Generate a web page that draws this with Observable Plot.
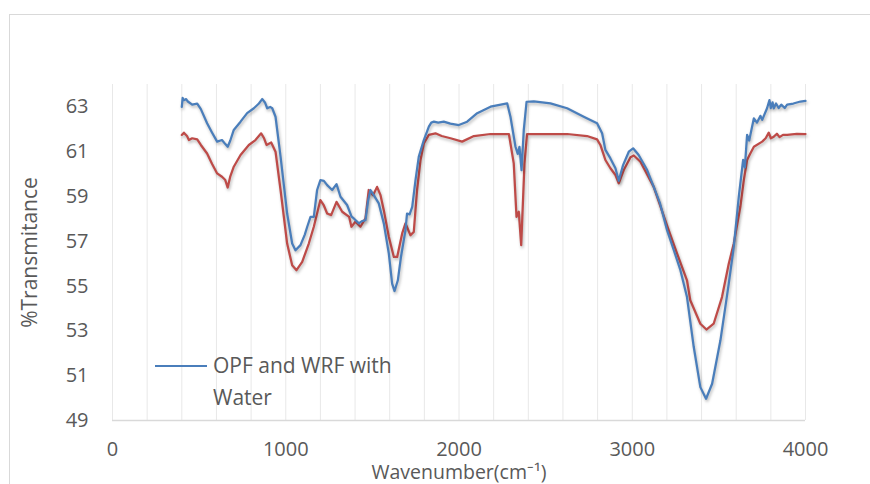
<!DOCTYPE html>
<html>
<head>
<meta charset="utf-8">
<script src="https://cdn.jsdelivr.net/npm/d3@7"></script>
<script src="https://cdn.jsdelivr.net/npm/@observablehq/plot@0.6"></script>
<style>
  html, body { margin: 0; padding: 0; background: #fff; overflow: hidden; }
  #wrap { position: relative; width: 870px; height: 484px; }
  #frame { position: absolute; left: 9px; top: 14px; width: 900px; height: 520px; border: 1.5px solid #d9d9d9; box-sizing: border-box; }
  #chart { position: absolute; left: 0; top: 0; }
  #legend { position: absolute; left: 155px; top: 349px; font-family: "Open Sans", sans-serif; font-size: 21px; color: #595959; line-height: 32px; }
  #legend .sw { position: absolute; left: 0; top: 16px; width: 52px; height: 0; border-top: 2.25px solid #4a7ebb; }
  #legend .txt { position: absolute; left: 58px; top: 0; white-space: nowrap; }
</style>
</head>
<body>
<div id="wrap">
  <div id="frame"></div>
  <div id="chart"></div>
  <div id="legend"><div class="sw"></div><div class="txt">OPF and WRF with<br>Water</div></div>
</div>
<script>
// Series 1: OPF and WRF with Water (blue)
const waterWavenumber = [400,405,412,425,435,460,489,510,546,575,604,632,650,665,680,700,739,777,816,845,864,880,893,910,922,941,970,1008,1037,1056,1085,1110,1124,1143,1162,1181,1200,1220,1239,1268,1293,1316,1354,1380,1393,1422,1440,1460,1475,1489,1508,1537,1566,1595,1614,1628,1647,1665,1691,1700,1715,1730,1749,1768,1797,1826,1840,1855,1880,1912,1950,1999,2047,2105,2182,2278,2297,2326,2339,2349,2361,2374,2390,2432,2528,2624,2720,2797,2826,2845,2874,2903,2922,2947,2980,3005,3037,3086,3124,3160,3201,3240,3278,3316,3355,3393,3426,3461,3509,3557,3586,3615,3640,3650,3663,3675,3702,3720,3740,3750,3778,3792,3800,3810,3817,3830,3845,3860,3880,3894,3930,3971,4000];
const waterTransmittance = [63.0,63.4,63.3,63.35,63.24,63.1,63.15,62.9,62.27,61.85,61.45,61.52,61.35,61.22,61.5,61.97,62.34,62.72,62.94,63.15,63.35,63.2,62.94,63.0,62.94,62.56,60.78,58.24,56.9,56.6,56.83,57.3,57.65,58.09,58.09,59.29,59.73,59.7,59.51,59.29,59.55,58.99,58.62,58.1,58.02,57.8,57.9,57.94,58.8,59.29,59.06,58.69,57.8,56.45,55.11,54.78,55.26,56.3,57.5,58.24,58.2,58.54,59.73,60.78,61.52,62.12,62.3,62.34,62.3,62.34,62.25,62.19,62.34,62.72,63.01,63.16,62.56,61.22,60.9,61.22,60.18,61.97,63.23,63.25,63.16,62.94,62.56,62.27,61.82,61.08,60.7,60.26,59.7,60.4,61.0,61.15,60.85,60.18,59.43,58.7,57.5,56.6,55.71,54.51,52.28,50.49,49.97,50.64,52.58,55.11,56.75,58.99,60.63,60.3,61.75,61.5,62.49,62.3,62.6,62.42,62.94,63.3,62.95,63.2,62.94,63.15,62.95,63.1,62.95,63.1,63.15,63.24,63.27];

// Series 2: OPF and WRF (red)
const dryWavenumber = [400,412,430,441,460,489,510,546,575,604,632,650,665,680,700,739,787,825,858,875,889,916,941,970,1008,1037,1062,1095,1133,1162,1200,1220,1239,1262,1293,1326,1366,1379,1402,1431,1460,1479,1504,1527,1547,1566,1595,1624,1643,1672,1691,1720,1739,1758,1778,1797,1826,1864,1900,1951,2018,2086,2182,2288,2316,2332,2345,2359,2378,2393,2624,2739,2797,2816,2845,2874,2903,2922,2951,2990,3009,3047,3124,3201,3259,3316,3335,3393,3428,3470,3518,3557,3586,3624,3644,3663,3680,3702,3750,3770,3788,3800,3817,3835,3850,3870,3894,3950,4000];
const dryTransmittance = [61.75,61.85,61.7,61.52,61.6,61.55,61.3,60.92,60.45,60.03,59.88,59.75,59.4,59.9,60.33,60.85,61.3,61.52,61.82,61.6,61.3,61.41,61.0,59.29,56.9,55.93,55.71,56.08,56.9,57.65,58.84,58.6,58.24,58.17,58.76,58.32,58.09,57.65,57.87,57.65,58.02,59.29,59.06,59.43,59.06,58.39,57.2,56.3,56.3,57.35,57.8,57.27,57.42,59.29,60.63,61.37,61.75,61.82,61.7,61.6,61.45,61.7,61.79,61.79,60.48,58.09,58.32,56.83,60.48,61.79,61.79,61.7,61.55,61.3,60.63,60.26,59.96,59.59,60.18,60.75,60.83,60.55,59.43,57.7,56.45,55.26,54.37,53.32,53.06,53.32,54.51,56.0,56.9,58.54,59.73,60.63,60.9,61.22,61.45,61.6,61.85,61.6,61.67,61.8,61.65,61.75,61.75,61.8,61.79];

const xTicks = [0, 1000, 2000, 3000, 4000];
const yTicks = [49, 51, 53, 55, 57, 59, 61, 63];
const xGrid = d3.range(0, 4001, 200);

const water = waterWavenumber.map((x, i) => ({x, y: waterTransmittance[i]}));
const dry = dryWavenumber.map((x, i) => ({x, y: dryTransmittance[i]}));

const chart = Plot.plot({
  width: 870,
  height: 484,
  marginLeft: 112,
  marginRight: 65,
  marginTop: 84,
  marginBottom: 64,
  style: {fontFamily: "Open Sans, sans-serif", fontSize: "20px", color: "#595959", background: "transparent", overflow: "visible"},
  x: {domain: [0, 4000], ticks: xTicks, tickSize: 0, tickPadding: 21, tickFormat: d3.format("d"), label: null},
  y: {domain: [49, 64], ticks: yTicks, tickSize: 0, tickPadding: 24, label: null},
  marks: [
    Plot.ruleX(xGrid, {stroke: "#e8e8e8", strokeWidth: 1}),
    Plot.ruleY([49], {stroke: "#d9d9d9", strokeWidth: 1.5}),
    Plot.line(dry, {x: "x", y: "y", stroke: "#be4b48", strokeWidth: 2.25}),
    Plot.line(water, {x: "x", y: "y", stroke: "#4a7ebb", strokeWidth: 2.25}),
    Plot.text(["%Transmitance"], {frameAnchor: "left", rotate: -90, dx: -82, textAnchor: "middle", lineAnchor: "middle", fill: "#595959", fontSize: 21}),
    Plot.text(["Wavenumber(cm⁻¹)"], {frameAnchor: "bottom", dy: 52, textAnchor: "middle", lineAnchor: "middle", fill: "#595959", fontSize: 19.5})
  ]
});
chart.querySelectorAll('g[aria-label="line"]').forEach(g => {
  g.style.filter = "drop-shadow(1.5px 2px 1.5px rgba(0,0,0,0.28))";
});
document.getElementById("chart").appendChild(chart);
</script>
</body>
</html>
